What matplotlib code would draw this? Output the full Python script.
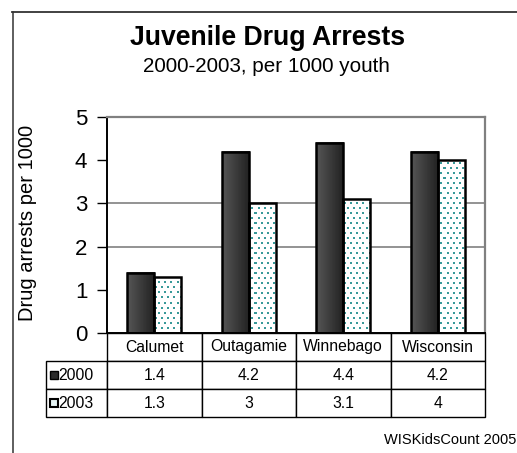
import matplotlib
matplotlib.use("Agg")
import matplotlib.pyplot as plt
import numpy as np
from matplotlib.table import Table
from matplotlib.patches import Rectangle
from matplotlib.lines import Line2D

plt.rcParams["font.family"] = "Liberation Sans"

# data
counties = ["Calumet", "Outagamie", "Winnebago", "Wisconsin"]
years = ["2000", "2003"]
arrests_2000 = [1.4, 4.2, 4.4, 4.2]
arrests_2003 = [1.3, 3, 3.1, 4]

W, H = 517, 453
fig = plt.figure(figsize=(W / 100, H / 100), dpi=100)

# axes box in pixels
L, R, T, B = 107, 485, 117, 333
ax = fig.add_axes([L / W, 1 - B / H, (R - L) / W, (B - T) / H])

x = np.arange(len(counties))
bw = 0.286

# gridlines (only 2 and 3 show in the original)
ax.hlines([2, 3], -0.5, len(counties) - 0.5, colors="#808080", lw=1.2, zorder=1)

bars00 = ax.bar(x - bw / 2, arrests_2000, bw, facecolor="none",
                edgecolor="black", lw=1.8, zorder=4)
bars03 = ax.bar(x + bw / 2, arrests_2003, bw, facecolor="none",
                edgecolor="black", lw=1.8, zorder=4)

# gradient fill for the 2000 bars
grad = np.linspace(0.34, 0.13, 64)[None, :]
for b in bars00:
    x0, w, h = b.get_x(), b.get_width(), b.get_height()
    ax.imshow(grad, cmap="gray", vmin=0, vmax=1, aspect="auto",
              extent=(x0, x0 + w, 0, h), interpolation="bilinear", zorder=2)

# dotted texture for the 2003 bars
tw, th = R - L, B - T
tex = np.ones((th, tw, 3))
dot = np.array([0.22, 0.6, 0.6])
for r in range(0, th - 1, 5):
    off = 0 if (r // 5) % 2 == 0 else 3
    for c in range(off, tw - 1, 6):
        tex[r:r + 2, c:c + 2] = dot
for b in bars03:
    im = ax.imshow(tex, aspect="auto", extent=(-0.5, len(counties) - 0.5, 0, 5),
                   interpolation="nearest", zorder=2)
    im.set_clip_path(b)
ax.set_xlim(-0.5, len(counties) - 0.5)
ax.set_ylim(0, 5)

# axes styling
ax.set_xticks([])
ax.set_yticks(range(0, 6))
ax.tick_params(axis="y", direction="out", length=7.2, width=1, pad=7, labelsize=16)
for s in ["top", "right"]:
    ax.spines[s].set_color("#808080")
    ax.spines[s].set_linewidth(1.6)
for s in ["left", "bottom"]:
    ax.spines[s].set_color("black")
    ax.spines[s].set_linewidth(1.4)

# data table beneath the chart (bbox covers the value cells, labels sit left)
tab = Table(ax, bbox=[0, -(417 - B) / th, 1, (417 - B) / th])
cw, lw_, ch = 94.5 / tw, 61 / tw, 28 / th
for j, name in enumerate(counties):
    tab.add_cell(0, j, width=cw, height=ch, text=name, loc="center")
for i, (yr, vals) in enumerate(zip(years, [arrests_2000, arrests_2003])):
    cell = tab.add_cell(i + 1, -1, width=lw_, height=ch, text=yr, loc="left")
    cell.PAD = 0.2
    for j, v in enumerate(vals):
        tab.add_cell(i + 1, j, width=cw, height=ch, text=f"{v:g}", loc="center")
tab.auto_set_font_size(False)
tab.set_fontsize(11.3)
for cell in tab.get_celld().values():
    cell.set_linewidth(1)
    cell.set_edgecolor("black")
ax.add_table(tab)

# legend keys inside the row labels
ax.add_patch(Rectangle(((50 - L) / tw, -(379 - B) / th), 8 / tw, 8 / th,
                       transform=ax.transAxes, clip_on=False,
                       facecolor="#2a2a2a", edgecolor="black", lw=1))
ax.add_patch(Rectangle(((50 - L) / tw, -(407 - B) / th), 8 / tw, 8 / th,
                       transform=ax.transAxes, clip_on=False,
                       facecolor="#e6f4f4", edgecolor="black", lw=1.5))

# titles and labels
fig.text(0.517, 1 - 45 / H, "Juvenile Drug Arrests", ha="center", va="baseline",
         fontsize=19.2, fontweight="bold")
fig.text(0.5155, 1 - 72 / H, "2000-2003, per 1000 youth", ha="center",
         va="baseline", fontsize=14.9)
fig.text(28 / W, 1 - 223 / H, "Drug arrests per 1000", rotation=90,
         ha="center", va="center", fontsize=14.5)
fig.text(384 / W, 1 - 444 / H, "WISKidsCount 2005", ha="left", va="baseline",
         fontsize=10.5)

# outer frame (partially visible)
fig.add_artist(Line2D([12.5 / W, 12.5 / W], [1 - 12 / H, 0], color="#333333", lw=1.1))
fig.add_artist(Line2D([12 / W, 1], [1 - 12 / H, 1 - 12 / H], color="#333333", lw=1.3))

fig.savefig("out.png", dpi=100)
